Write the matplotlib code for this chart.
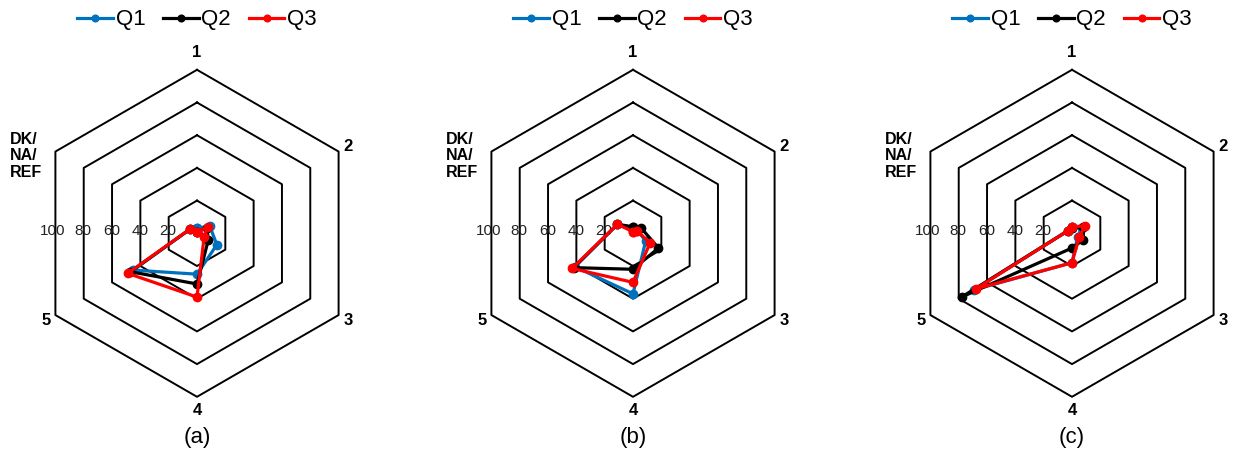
import numpy as np
import matplotlib
matplotlib.use("Agg")
import matplotlib.pyplot as plt

plt.rcParams["font.family"] = ["Liberation Sans", "DejaVu Sans"]

# axis order: 1, 2, 3, 4, 5, DK/NA/REF (clockwise from top)
spokes = ["1", "2", "3", "4", "5", "DK/\nNA/\nREF"]
spoke_deg = [90, 30, -30, -90, -150, 150]
rings = [20, 40, 60, 80, 100]
series = ["Q1", "Q2", "Q3"]
colors = {"Q1": "#0072BD", "Q2": "#000000", "Q3": "#FF0000"}
panel_tags = ["(a)", "(b)", "(c)"]

q1_a = [3, 9, 14, 25, 45, 5]
q2_a = [1, 7, 8, 31, 47, 5]
q3_a = [1, 7.5, 5, 39, 49, 5]

q1_b = [2, 3, 9, 37, 41, 11]
q2_b = [4, 6, 18, 22, 42, 11]
q3_b = [1, 3, 12, 30, 43, 11]

q1_c = [4, 7, 4, 18, 69, 3]
q2_c = [3, 8, 8, 9, 78, 3]
q3_c = [4, 9, 5, 18, 68, 3]

panels = [
    {"Q1": q1_a, "Q2": q2_a, "Q3": q3_a},
    {"Q1": q1_b, "Q2": q2_b, "Q3": q3_b},
    {"Q1": q1_c, "Q2": q2_c, "Q3": q3_c},
]

W, H = 1237, 454
fig = plt.figure(figsize=(W / 100, H / 100), dpi=100)

centers_x = [197, 633, 1072]
center_y = 233.3          # pixels from top
px_per_unit = 1.635       # 100 % -> ~163 px
half = 125                # data units on each side of centre
half_px = half * px_per_unit

th = np.deg2rad(spoke_deg)
cos_t, sin_t = np.cos(th), np.sin(th)

for cx, data, tag in zip(centers_x, panels, panel_tags):
    ax = fig.add_axes([(cx - half_px) / W, (H - center_y - half_px) / H,
                       2 * half_px / W, 2 * half_px / H])
    ax.set_xlim(-half, half)
    ax.set_ylim(-half, half)
    ax.axis("off")

    # hexagonal grid
    for r in rings:
        hx = np.append(r * cos_t, r * cos_t[0])
        hy = np.append(r * sin_t, r * sin_t[0])
        ax.plot(hx, hy, color="black", lw=1.4, zorder=1)
        ax.text(-r * np.cos(np.pi / 6) - (1.5 if r == 100 else 0.4), 1.2,
                str(r), ha="center", va="center", fontsize=11,
                color="#222222", zorder=2)

    # spoke labels
    for lab, c, s in zip(spokes, cos_t, sin_t):
        if lab.startswith("DK"):
            ax.text(-95.0, 47.5, lab, ha="right", va="center",
                    multialignment="left", fontsize=11.5,
                    fontweight="bold", linespacing=1.12, clip_on=False)
        elif abs(c) < 0.01:
            rr = 110.5 if s > 0 else 108.5
            ax.text(0, rr * s, lab, ha="center", va="center",
                    fontsize=12, fontweight="bold", clip_on=False)
        else:
            ax.text(106.5 * c, 106.5 * s, lab, ha="center", va="center",
                    fontsize=12, fontweight="bold", clip_on=False)

    # data polygons
    for i, name in enumerate(series):
        v = np.array(data[name], dtype=float)
        x = np.append(v * cos_t, v[0] * cos_t[0])
        y = np.append(v * sin_t, v[0] * sin_t[0])
        ax.plot(x, y, color=colors[name], lw=2.3, marker="o",
                markersize=6, label=name, zorder=3 + i)

    leg = ax.legend(loc="center", bbox_to_anchor=(cx / W, 1 - 20 / H),
                    bbox_transform=fig.transFigure, ncol=3, frameon=False,
                    fontsize=16, handlelength=1.6, handletextpad=0.12,
                    columnspacing=0.8, borderaxespad=0, borderpad=0,
                    markerscale=0.8)

    fig.text(cx / W, 1 - 437 / H, tag, ha="center", va="center",
             fontsize=16)

fig.savefig("out.png", dpi=100)
